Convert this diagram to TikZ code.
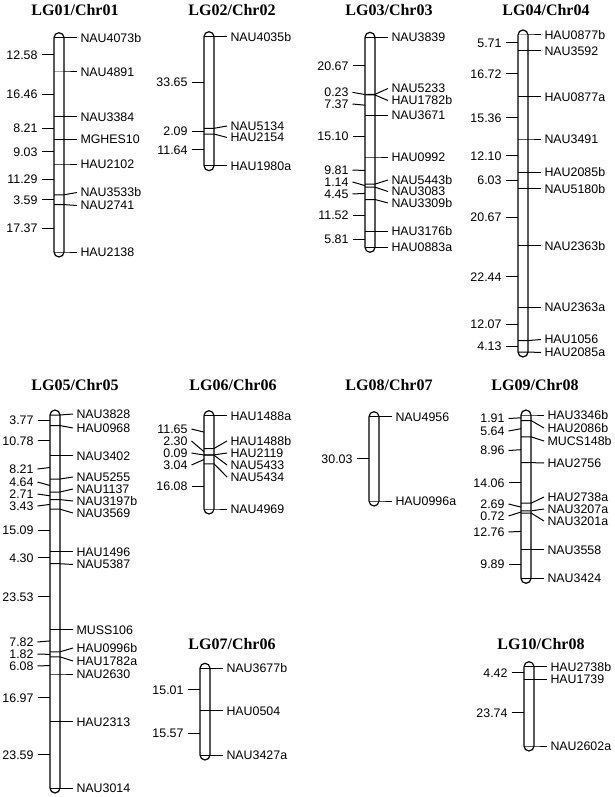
\documentclass[tikz,border=0pt]{standalone}
\usepackage{fontspec}
\setmainfont{Liberation Sans}
\newfontfamily\titlefont{Liberation Serif}

\begin{document}
\begin{tikzpicture}[x=1pt,y=-1pt,line width=1pt,
  chrom/.style={rounded corners=5pt,line width=1.2pt},
  mklabel/.style={anchor=west,inner xsep=3pt,inner ysep=0pt,text height=8.9pt,text depth=0pt,font=\fontsize{12.4}{12.4}\selectfont},
  dist/.style={anchor=east,inner xsep=3.5pt,inner ysep=0pt,text height=8.9pt,text depth=0pt,font=\fontsize{12.4}{12.4}\selectfont},
  lg/.style={inner sep=0pt,text height=11pt,text depth=0pt,font=\titlefont\bfseries\fontsize{16}{16}\selectfont}]
\useasboundingbox (0,0) rectangle (614,797);

% LG01
\node[lg] (lg1) at (75,10.5) {LG01/Chr01};
\draw[chrom] (54,32.7) rectangle (64,257);
\foreach \ty/\ly/\txt [count=\i] in {37.7/37.7/NAU4073b, 72/72/NAU4891, 116.9/116.9/NAU3384, 139.4/139.4/MGHES10, 164/164/HAU2102, 194.8/192.5/NAU3533b, 204.6/205.5/NAU2741, 252/252/HAU2138}{
  \node[mklabel] (lg1m\i) at (77,\ly) {\txt};
  \draw (54,\ty) -- (64,\ty) -- (lg1m\i.west);
}
\foreach \ty/\ly/\txt [count=\i] in {54.9/54.9/12.58, 94.5/94.5/16.46, 128.2/128.2/8.21, 151.7/151.7/9.03, 179.4/179.4/11.29, 199.7/199.7/3.59, 228.3/228.3/17.37}{
  \node[dist] (lg1c\i) at (41.5,\ly) {\txt};
  \draw (lg1c\i.east) -- (54,\ty);
}

% LG02
\node[lg] (lg2) at (232,10.5) {LG02/Chr02};
\draw[chrom] (204,31.7) rectangle (214,170.7);
\foreach \ty/\ly/\txt [count=\i] in {36.7/36.7/NAU4035b, 128.3/126/NAU5134, 134/137.5/HAU2154, 165.7/165.7/HAU1980a}{
  \node[mklabel] (lg2m\i) at (227,\ly) {\txt};
  \draw (204,\ty) -- (214,\ty) -- (lg2m\i.west);
}
\foreach \ty/\ly/\txt [count=\i] in {82.5/82.5/33.65, 131.2/131.2/2.09, 149.9/149.9/11.64}{
  \node[dist] (lg2c\i) at (191.5,\ly) {\txt};
  \draw (lg2c\i.east) -- (204,\ty);
}

% LG03
\node[lg] (lg3) at (389,10.5) {LG03/Chr03};
\draw[chrom] (365,32.3) rectangle (375,252.3);
\foreach \ty/\ly/\txt [count=\i] in {37.3/37.3/NAU3839, 94.3/88.5/NAU5233, 95/100.5/HAU1782b, 115.3/115.3/NAU3671, 157/157/HAU0992, 184.1/180/NAU5443b, 187.2/191.5/NAU3083, 199.5/203/NAU3309b, 231.3/231.3/HAU3176b, 247.3/247.3/HAU0883a}{
  \node[mklabel] (lg3m\i) at (388,\ly) {\txt};
  \draw (365,\ty) -- (375,\ty) -- (lg3m\i.west);
}
\foreach \ty/\ly/\txt [count=\i] in {65.8/65.8/20.67, 94.6/92.3/0.23, 105.2/104/7.37, 136.2/136.2/15.10, 170.5/170/9.81, 185.6/182/1.14, 193.4/194/4.45, 215.4/215.4/11.52, 239.3/239.3/5.81}{
  \node[dist] (lg3c\i) at (352.5,\ly) {\txt};
  \draw (lg3c\i.east) -- (365,\ty);
}

% LG04
\node[lg] (lg4) at (546,10.5) {LG04/Chr04};
\draw[chrom] (518,30) rectangle (528,357);
\foreach \ty/\ly/\txt [count=\i] in {35/35/HAU0877b, 50.7/50.7/NAU3592, 96.7/96.7/HAU0877a, 139/139/NAU3491, 172.2/172.2/HAU2085b, 188.8/188.8/NAU5180b, 245.7/245.7/NAU2363b, 307.4/307.4/NAU2363a, 340.6/339.5/HAU1056, 352/352.5/HAU2085a}{
  \node[mklabel] (lg4m\i) at (541,\ly) {\txt};
  \draw (518,\ty) -- (528,\ty) -- (lg4m\i.west);
}
\foreach \ty/\ly/\txt [count=\i] in {42.9/42.9/5.71, 73.7/73.7/16.72, 117.9/117.9/15.36, 155.6/155.6/12.10, 180.5/180.5/6.03, 217.3/217.3/20.67, 276.6/276.6/22.44, 324/324/12.07, 346.3/346.3/4.13}{
  \node[dist] (lg4c\i) at (505.5,\ly) {\txt};
  \draw (lg4c\i.east) -- (518,\ty);
}

% LG05
\node[lg] (lg5) at (75,385) {LG05/Chr05};
\draw[chrom] (50,410) rectangle (60,793);
\foreach \ty/\ly/\txt [count=\i] in {415/414/NAU3828, 425.6/428/HAU0968, 455.9/455.9/NAU3402, 479/477/NAU5255, 492/489/NAU1137, 499.6/501/NAU3197b, 509.2/513/NAU3569, 551.7/551.7/HAU1496, 563.7/564.5/NAU5387, 629.9/629.9/MUSS106, 651.8/648/HAU0996b, 656.9/661/HAU1782a, 674/674/NAU2630, 721.7/721.7/HAU2313, 788/788/NAU3014}{
  \node[mklabel] (lg5m\i) at (73,\ly) {\txt};
  \draw (50,\ty) -- (60,\ty) -- (lg5m\i.west);
}
\foreach \ty/\ly/\txt [count=\i] in {420.3/420.3/3.77, 440.8/440.8/10.78, 467.5/469/8.21, 485.5/482/4.64, 495.8/494/2.71, 504.4/506/3.43, 530.5/530.5/15.09, 557.7/557.7/4.30, 596.8/596.8/23.53, 640.9/642/7.82, 654.4/654/1.82, 665.5/666/6.08, 697.9/697.9/16.97, 754.9/754.9/23.59}{
  \node[dist] (lg5c\i) at (37.5,\ly) {\txt};
  \draw (lg5c\i.east) -- (50,\ty);
}

% LG06
\node[lg] (lg6) at (233,385) {LG06/Chr06};
\draw[chrom] (204,410.7) rectangle (214,514);
\foreach \ty/\ly/\txt [count=\i] in {415.7/415.7/HAU1488a, 448.5/441/HAU1488b, 454.9/453/HAU2119, 455.2/465/NAU5433, 463.8/477/NAU5434, 509/509/NAU4969}{
  \node[mklabel] (lg6m\i) at (227,\ly) {\txt};
  \draw (204,\ty) -- (214,\ty) -- (lg6m\i.west);
}
\foreach \ty/\ly/\txt [count=\i] in {432.1/429/11.65, 451.7/441/2.30, 455/453/0.09, 459.5/465/3.04, 486.4/486.4/16.08}{
  \node[dist] (lg6c\i) at (191.5,\ly) {\txt};
  \draw (lg6c\i.east) -- (204,\ty);
}

% LG08
\node[lg] (lg8) at (389,385) {LG08/Chr07};
\draw[chrom] (369,411.7) rectangle (379,506);
\foreach \ty/\ly/\txt [count=\i] in {416.7/416.7/NAU4956, 501/501/HAU0996a}{
  \node[mklabel] (lg8m\i) at (392,\ly) {\txt};
  \draw (369,\ty) -- (379,\ty) -- (lg8m\i.west);
}
\node[dist] (lg8c1) at (356.5,458.9) {30.03};
\draw (lg8c1.east) -- (369,458.9);

% LG09
\node[lg] (lg9) at (535,385) {LG09/Chr08};
\draw[chrom] (521,410) rectangle (531,583.3);
\foreach \ty/\ly/\txt [count=\i] in {415/415/HAU3346b, 420.5/428/HAU2086b, 436.8/441/MUCS148b, 462.6/463/HAU2756, 503.2/497/HAU2738a, 510.9/509/NAU3207a, 513/521/NAU3201a, 549.8/549.8/NAU3558, 578.3/578.3/NAU3424}{
  \node[mklabel] (lg9m\i) at (544,\ly) {\txt};
  \draw (521,\ty) -- (531,\ty) -- (lg9m\i.west);
}
\foreach \ty/\ly/\txt [count=\i] in {417.8/418.5/1.91, 428.7/431/5.64, 449.7/450.5/8.96, 482.9/482.9/14.06, 507.1/504/2.69, 512/516/0.72, 531.4/532/12.76, 564.1/564.1/9.89}{
  \node[dist] (lg9c\i) at (508.5,\ly) {\txt};
  \draw (lg9c\i.east) -- (521,\ty);
}

% LG07
\node[lg] (lg7) at (232,644) {LG07/Chr06};
\draw[chrom] (200,663.3) rectangle (210,760);
\foreach \ty/\ly/\txt [count=\i] in {668.3/668.3/NAU3677b, 710.9/710.9/HAU0504, 755/755/NAU3427a}{
  \node[mklabel] (lg7m\i) at (223,\ly) {\txt};
  \draw (200,\ty) -- (210,\ty) -- (lg7m\i.west);
}
\foreach \ty/\ly/\txt [count=\i] in {689.6/689.6/15.01, 733/733/15.57}{
  \node[dist] (lg7c\i) at (187.5,\ly) {\txt};
  \draw (lg7c\i.east) -- (200,\ty);
}

% LG10
\node[lg] (lg10) at (541,644) {LG10/Chr08};
\draw[chrom] (524,661.7) rectangle (534,751);
\foreach \ty/\ly/\txt [count=\i] in {666.7/666.7/HAU2738b, 679.1/679.1/HAU1739, 746/746/NAU2602a}{
  \node[mklabel] (lg10m\i) at (547,\ly) {\txt};
  \draw (524,\ty) -- (534,\ty) -- (lg10m\i.west);
}
\foreach \ty/\ly/\txt [count=\i] in {672.9/672.9/4.42, 712.6/712.6/23.74}{
  \node[dist] (lg10c\i) at (511.5,\ly) {\txt};
  \draw (lg10c\i.east) -- (524,\ty);
}

\end{tikzpicture}
\end{document}
